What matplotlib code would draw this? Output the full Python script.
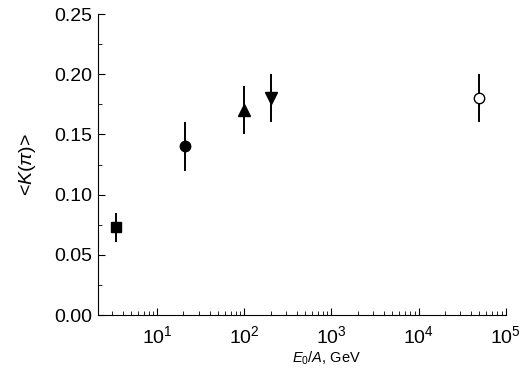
import matplotlib.pyplot as plt
from matplotlib.ticker import LogLocator, MultipleLocator, NullFormatter

plt.rcParams['font.family'] = ['Liberation Sans', 'DejaVu Sans']
plt.rcParams['mathtext.fontset'] = 'custom'
plt.rcParams['mathtext.rm'] = 'Liberation Sans'
plt.rcParams['mathtext.it'] = 'Liberation Sans:italic'

# data points: energy per nucleon (GeV), <K(pi)>, error
energy = [3.4, 21, 100, 200, 50000]
k_pi = [0.073, 0.140, 0.170, 0.180, 0.180]
k_err = [0.012, 0.020, 0.020, 0.020, 0.020]
markers = ['s', 'o', '^', 'v', 'o']
filled = [True, True, True, True, False]
sizes = [6.5, 7.5, 8, 8, 7.5]

fig = plt.figure(figsize=(5.2, 3.8), dpi=100)
ax = fig.add_axes([0.1875, 0.171, 0.785, 0.792])

for x, y, e, m, f, s in zip(energy, k_pi, k_err, markers, filled, sizes):
    ax.errorbar(x, y, yerr=e, fmt=m, color='black', ms=s, elinewidth=1.4,
                capsize=0, mfc='black' if f else 'white', mec='black', mew=1.0)

ax.set_xscale('log')
ax.set_xlim(2.06, 1e5)
ax.set_ylim(0, 0.25)
ax.yaxis.set_major_locator(MultipleLocator(0.05))
ax.yaxis.set_minor_locator(MultipleLocator(0.025))
ax.xaxis.set_major_locator(LogLocator(base=10, numticks=10))
ax.xaxis.set_minor_locator(LogLocator(base=10, subs=range(2, 10), numticks=20))
ax.xaxis.set_minor_formatter(NullFormatter())
ax.yaxis.set_major_formatter(plt.FuncFormatter(lambda v, p: f'{v:.2f}'))

for s in ['top', 'right']:
    ax.spines[s].set_visible(False)
ax.tick_params(direction='in', which='both', labelsize=14)
ax.tick_params(which='major', length=5)
ax.tick_params(which='minor', length=3)
ax.tick_params(axis='x', which='major', pad=7)

ax.set_xlabel(r'$E_0/A$, GeV', fontsize=10.5)
ax.xaxis.set_label_coords(0.56, -0.115)
ax.set_ylabel(r'<$K$($\pi$)>', fontsize=14, labelpad=12)

fig.savefig('out.png', dpi=100)
